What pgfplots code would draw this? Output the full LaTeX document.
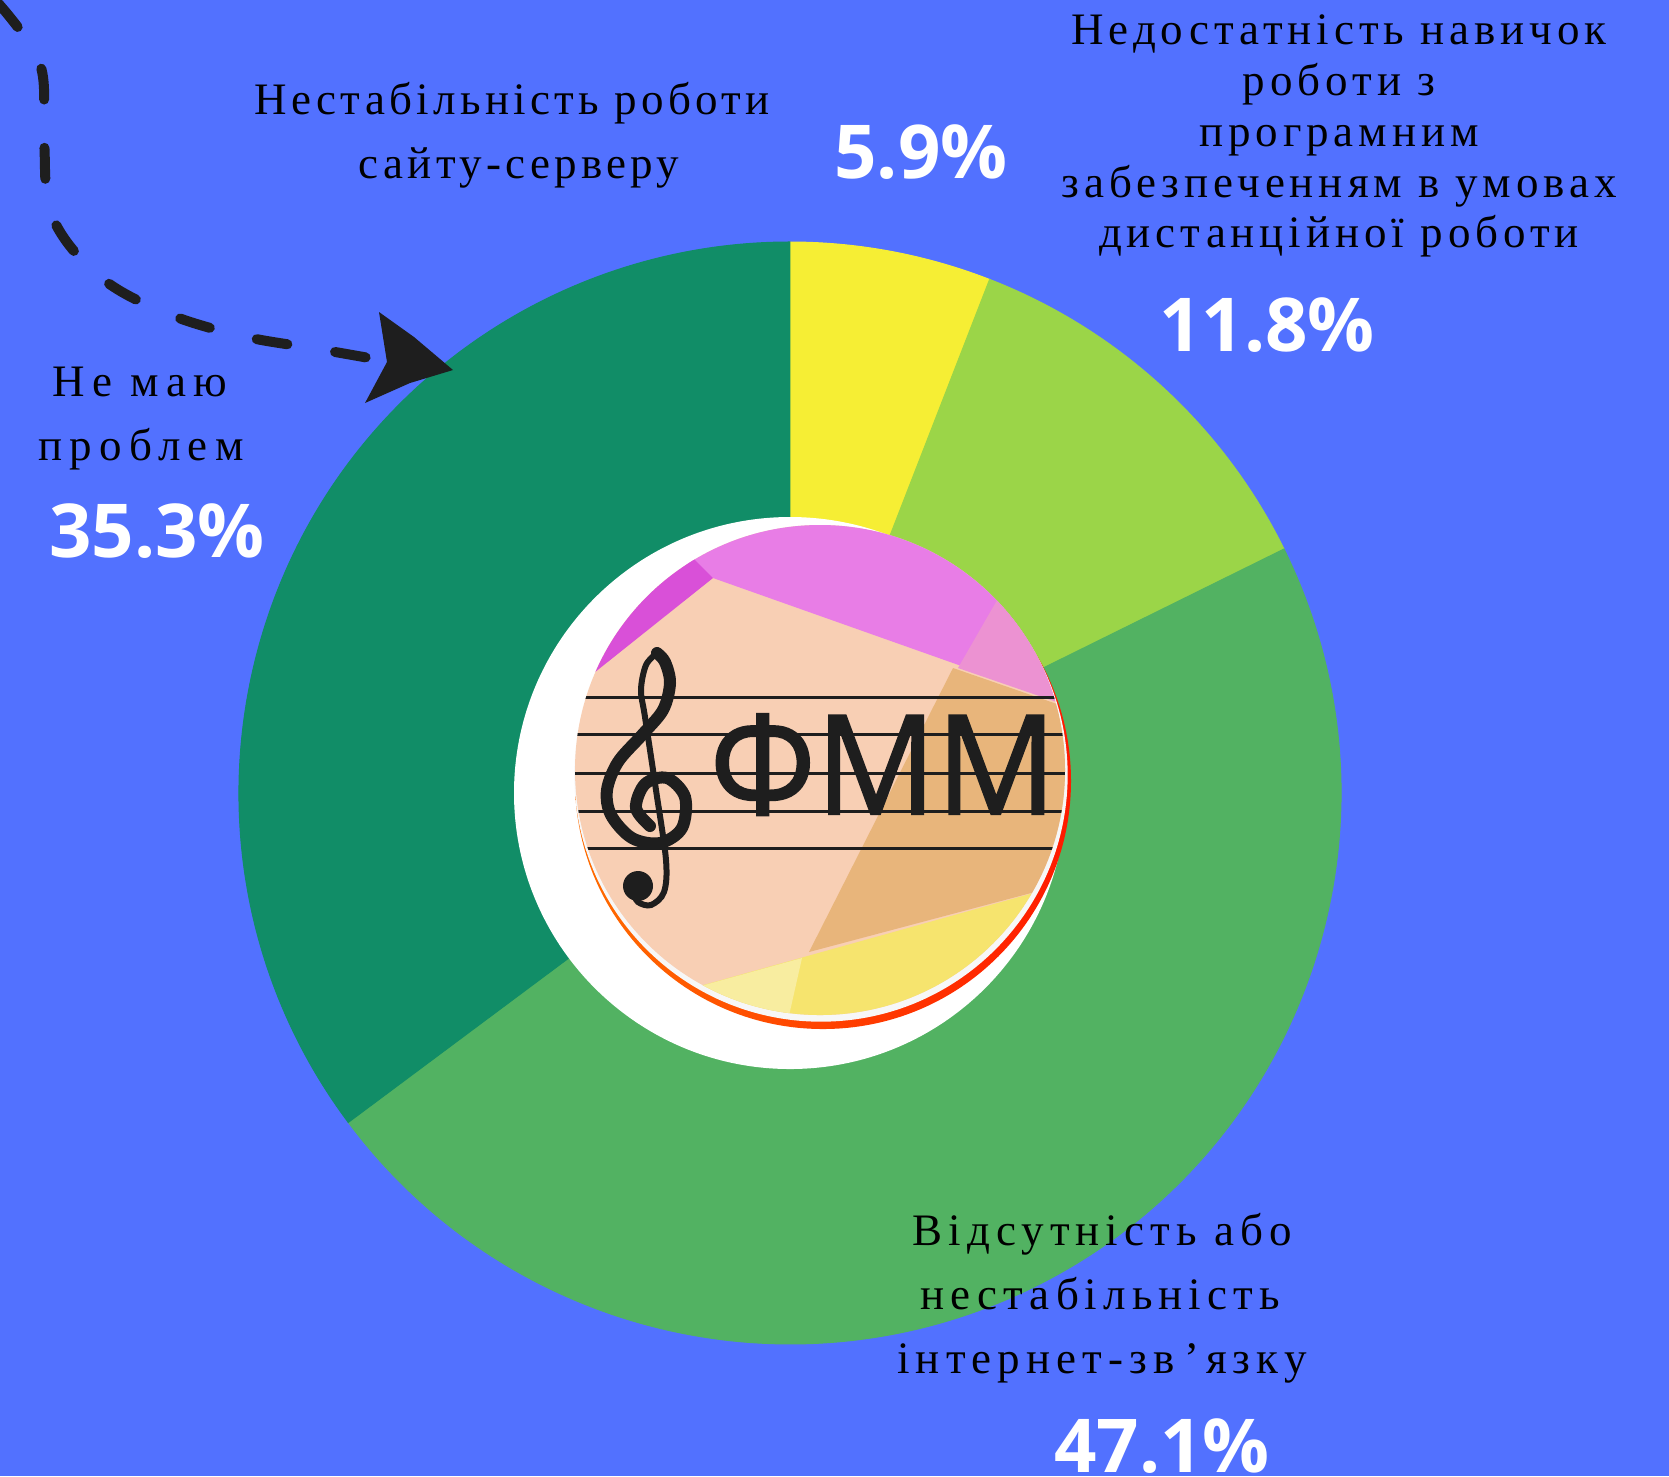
\documentclass[border=0pt]{standalone}
\usepackage{pgfplots}
\pgfplotsset{compat=1.18}
\usepackage{graphicx}
\usepackage{fontspec}
\setmainfont{Liberation Serif}
\newfontfamily\labfont{Liberation Serif}[LetterSpace=11]
\newfontfamily\labfontA{Liberation Serif}[LetterSpace=9.5]
\newfontfamily\labfontL{Liberation Serif}[LetterSpace=16]
\newfontfamily\labfontB{Liberation Serif}[LetterSpace=13.5]
\newfontfamily\pctfont{Open Sans}
\newfontfamily\logofont{Open Sans}[FakeBold=1.5]
\definecolor{bg}{RGB}{82,113,255}
\definecolor{cyel}{RGB}{246,238,52}
\definecolor{clg}{RGB}{155,213,72}
\definecolor{cgr}{RGB}{82,178,98}
\definecolor{cdk}{RGB}{17,141,103}
\definecolor{peach}{RGB}{248,207,180}
\definecolor{lpink}{RGB}{232,125,230}
\definecolor{magen}{RGB}{217,80,216}
\definecolor{rpink}{RGB}{236,146,210}
\definecolor{tan}{RGB}{232,181,123}
\definecolor{lyel}{RGB}{246,228,110}
\definecolor{vlyel}{RGB}{248,237,160}
\definecolor{ink}{RGB}{30,30,30}
\newcommand\lab{\labfont\fontsize{13.5}{16}\selectfont}
\newcommand\labA{\labfontA\fontsize{13.5}{16}\selectfont}
\newcommand\labL{\labfontL\fontsize{13.5}{16}\selectfont}
\newcommand\labB{\labfontB\fontsize{13.5}{16}\selectfont}
\newcommand\pct{\pctfont\bfseries\fontsize{22.3}{26}\selectfont}
\begin{document}
\begin{tikzpicture}
\begin{axis}[x=0.3pt,y=0.3pt,xmin=0,xmax=1669,ymin=0,ymax=1476,
  y dir=reverse,hide axis,clip=true]
% background
\fill[bg] (axis cs:0,0) rectangle (axis cs:1669,1476);
% donut sectors: 5.9, 11.8, 47.1, 35.3 (%), clockwise from top
\addplot[fill=cyel,draw=cyel,line width=0.3pt] coordinates {(790,793) (790,242)}
  arc[start angle=90,end angle={90-3.6*5.9},radius=165.3pt] -- cycle;
\addplot[fill=clg,draw=clg,line width=0.3pt] coordinates {(790,793) (989.6,279.4)}
  arc[start angle={90-3.6*5.9},end angle={90-3.6*(5.9+11.8)},radius=165.3pt] -- cycle;
\addplot[fill=cgr,draw=cgr,line width=0.3pt] coordinates {(790,793) (1284.0,549.0)}
  arc[start angle={90-3.6*(5.9+11.8)},end angle={90-3.6*(5.9+11.8+47.1)},radius=165.3pt] -- cycle;
\addplot[fill=cdk,draw=cdk,line width=0.3pt] coordinates {(790,793) (348.3,1122.4)}
  arc[start angle={90-3.6*(5.9+11.8+47.1)},end angle={-270},radius=165.3pt] -- cycle;
% hole
\fill[white] (axis cs:790,793) circle[radius=82.8pt];
% logo rim
\shade[left color=orange!85!red, right color=red!80!orange] (axis cs:823,781) circle[radius=74.4pt];
\fill[white!94!gray] (axis cs:821,775) circle[radius=74pt];
\begin{scope}
\clip (axis cs:820,770) circle[radius=73.5pt];
\fill[peach] (axis cs:560,500) rectangle (axis cs:1080,1100);
\fill[lpink] (axis cs:640,500) -- (axis cs:1080,500) -- (axis cs:1080,708) -- (axis cs:713,578) -- (axis cs:640,540) -- cycle;
\fill[magen] (axis cs:560,700) -- (axis cs:713,578) -- (axis cs:690,555) -- (axis cs:620,540) -- (axis cs:560,600) -- cycle;
\fill[rpink] (axis cs:1000,595) -- (axis cs:1080,630) -- (axis cs:1080,710) -- (axis cs:958,668) -- cycle;
\fill[tan] (axis cs:953,668) -- (axis cs:1080,712) -- (axis cs:1080,880) -- (axis cs:809,952) -- cycle;
\fill[lyel] (axis cs:560,1025) -- (axis cs:1080,880) -- (axis cs:1080,1100) -- (axis cs:560,1100) -- cycle;
\fill[vlyel] (axis cs:560,1025) -- (axis cs:802,958) -- (axis cs:770,1100) -- (axis cs:560,1100) -- cycle;
\foreach \yy in {697,734,773,811,848}{
  \edef\tmp{\noexpand\draw[ink,line width=0.9pt] (axis cs:560,\yy) -- (axis cs:1080,\yy);}\tmp
}
\end{scope}
% treble clef (drawn as a shape)
\addplot[smooth,tension=0.55,line width=3.6pt,color=ink,line cap=round]
  coordinates {(650,826) (636,808) (645,784) (667,778) (685,797) (682,828) (660,843) (632,838)
   (611,815) (607,790) (618,762) (642,735) (663,710) (670,683) (665,662) (657,653)};
\addplot[smooth,tension=0.55,line width=1.8pt,color=ink,line cap=round]
  coordinates {(657,653) (646,665) (641,690) (645,717) (656,790) (666,860) (664,892) (651,905) (638,902) (633,892)};
\fill[ink] (axis cs:638,886) circle[radius=4.5pt];
\node[anchor=base west,inner sep=0,ink] at (axis cs:709,814) {\resizebox{104pt}{30pt}{\logofont ФММ}};
% dashed arrow
\addplot[smooth,tension=0.6,line width=3pt,dash pattern=on 9.3pt off 14.5pt,line cap=round,color=ink]
  coordinates {(-2,3) (40,64) (44,140) (52,216) (99,276) (166,313) (242,336) (318,349) (392,362)};
\addplot[fill=ink,draw=none] coordinates {(453,370) (414,337) (379,312) (387,362) (365,403) (410,383)} -- cycle;
% labels
\node[anchor=base,font=\labA] at (axis cs:512,114) {Нестабільність роботи};
\node[anchor=base,font=\labA] at (axis cs:519,178) {сайту-серверу};
\node[anchor=base,font=\lab] at (axis cs:1339,44) {Недостатність навичок};
\node[anchor=base,font=\lab] at (axis cs:1339,95) {роботи з};
\node[anchor=base,font=\lab] at (axis cs:1339,146) {програмним};
\node[anchor=base,font=\lab] at (axis cs:1339,197) {забезпеченням в умовах};
\node[anchor=base,font=\lab] at (axis cs:1339,247) {дистанційної роботи};
\node[anchor=base,font=\labL] at (axis cs:140,396) {Не маю};
\node[anchor=base,font=\labL] at (axis cs:141,460) {проблем};
\node[anchor=base,font=\labB] at (axis cs:1102,1245) {Відсутність або};
\node[anchor=base,font=\labB] at (axis cs:1100,1309) {нестабільність};
\node[anchor=base,font=\labB] at (axis cs:1102,1373) {інтернет-зв\kern3pt’\kern2pt язку};
\node[anchor=base,text=white,font=\pct] at (axis cs:921,178) {5.9\%};
\node[anchor=base,text=white,font=\pct] at (axis cs:1267,351) {11.8\%};
\node[anchor=base,text=white,font=\pct] at (axis cs:157,557) {35.3\%};
\node[anchor=base,text=white,font=\pct] at (axis cs:1162,1472) {47.1\%};
\end{axis}
\end{tikzpicture}
\end{document}
